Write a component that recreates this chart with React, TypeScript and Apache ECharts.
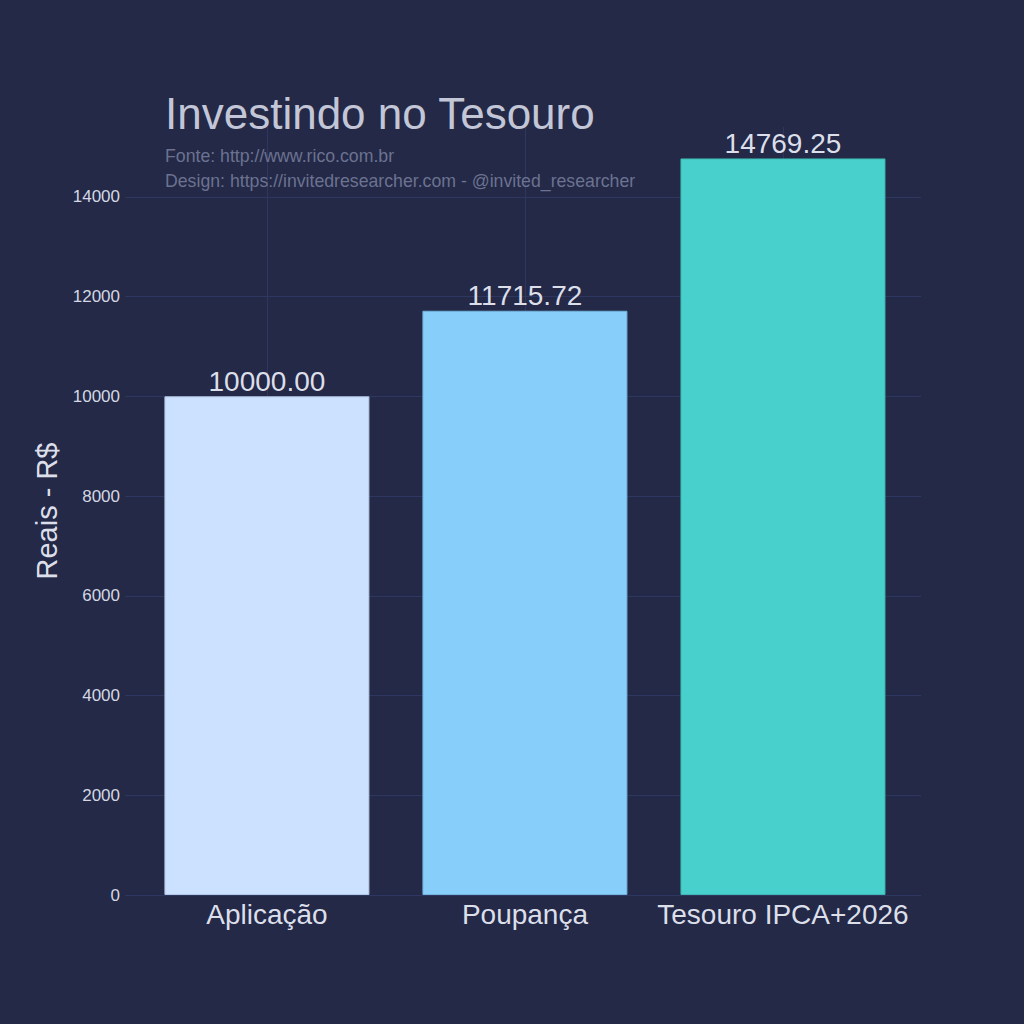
import React, { useEffect, useRef } from "react";
import * as echarts from "echarts";

const categories = ["Aplicação", "Poupança", "Tesouro IPCA+2026"];
const values = [10000.0, 11715.72, 14769.25];
const barColors = ["#cce0ff", "#87cefa", "#48d1cc"];
const borderColors = ["#b3c6e2", "#74b4dc", "#3fb8b3"];
const yTicks = [0, 2000, 4000, 6000, 8000, 10000, 12000, 14000];

const BG = "#232946";
const GRID = "#2d3760";
const FONT = "Liberation Sans, Arial, sans-serif";

export default function App() {
  const ref = useRef<HTMLDivElement>(null);
  useEffect(() => {
    document.body.style.margin = "0";
    document.body.style.background = BG;
    if (!ref.current) return;
    const chart = echarts.init(ref.current, null, { renderer: "svg" });
    const positions = categories.map((_, i) => i);
    chart.setOption({
      animation: false,
      backgroundColor: BG,
      textStyle: { fontFamily: FONT },
      title: {
        text: "Investindo no Tesouro",
        subtext:
          "Fonte: http://www.rico.com.br\nDesign: https://invitedresearcher.com - @invited_researcher",
        left: 160,
        top: 86,
        itemGap: 8,
        textStyle: { fontFamily: FONT, fontSize: 44, fontWeight: "normal", color: "#c3c6d6" },
        subtextStyle: { fontFamily: FONT, fontSize: 17.7, color: "#6c7291", lineHeight: 25 },
      },
      grid: { left: 125, right: 103, top: 127, bottom: 129, containLabel: false },
      xAxis: {
        type: "value",
        min: -0.55,
        max: 2.535,
        axisLine: { show: false },
        axisTick: { show: false, customValues: positions },
        axisLabel: {
          customValues: positions,
          fontFamily: FONT,
          fontSize: 28,
          color: "#dcdfea",
          margin: 5,
          formatter: (v: number) => categories[Math.round(v)] ?? "",
        },
        splitLine: { show: true, lineStyle: { color: GRID, width: 1 } },
      },
      yAxis: {
        type: "value",
        min: 0,
        max: 15400,
        interval: 2000,
        name: "Reais - R$",
        nameLocation: "middle",
        nameGap: 64,
        nameRotate: 90,
        nameTextStyle: { fontFamily: FONT, fontSize: 29, color: "#dcdfea" },
        axisLine: { show: false },
        axisTick: { show: false },
        axisLabel: {
          fontFamily: FONT,
          fontSize: 17,
          color: "#d4d7e4",
          margin: 5,
          showMaxLabel: false,
          formatter: (v: number) => (yTicks.includes(v) ? String(v) : ""),
        },
        splitLine: { show: true, showMaxLine: false, lineStyle: { color: GRID, width: 1 } },
      },
      series: [
        {
          type: "bar",
          barWidth: 205,
          z: 3,
          data: values.map((v, i) => ({
            value: [i, v],
            itemStyle: { color: barColors[i], borderColor: borderColors[i], borderWidth: 1 },
          })),
          label: {
            show: true,
            position: "top",
            distance: 1,
            fontFamily: FONT,
            fontSize: 28,
            color: "#dcdfea",
            formatter: (p: any) => values[p.dataIndex].toFixed(2),
          },
        },
      ],
    });
    return () => chart.dispose();
  }, []);
  return <div ref={ref} style={{ width: 1024, height: 1024 }} />;
}
